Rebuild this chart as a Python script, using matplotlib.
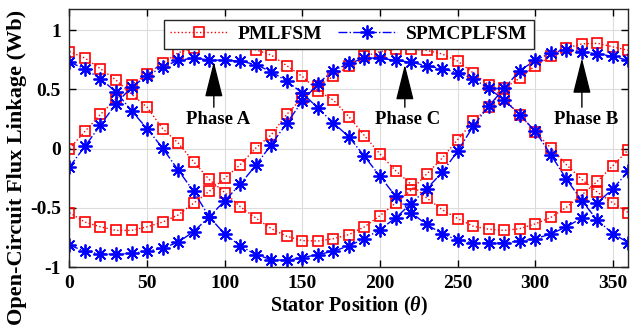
import matplotlib
matplotlib.use("Agg")
import matplotlib.pyplot as plt

plt.rcParams['font.family'] = ['Liberation Serif', 'DejaVu Serif']
plt.rcParams['font.weight'] = 'bold'
plt.rcParams['mathtext.fontset'] = 'custom'
plt.rcParams['mathtext.rm'] = 'Liberation Serif:bold'
plt.rcParams['mathtext.it'] = 'Liberation Serif:italic:bold'
plt.rcParams['mathtext.bf'] = 'Liberation Serif:bold'

# Stator position (degrees)
theta = [0, 10, 20, 30, 40, 50, 60, 70, 80, 90, 100, 110, 120, 130, 140, 150,
         160, 170, 180, 190, 200, 210, 220, 230, 240, 250, 260, 270, 280, 290,
         300, 310, 320, 330, 340, 350, 360]

# PMLFSM open-circuit flux linkage (Wb)
pml_a = [0.0, 0.146, 0.29, 0.42, 0.54, 0.63, 0.72, 0.81, 0.85, 0.88, 0.89, 0.88,
         0.835, 0.79, 0.70, 0.61, 0.49, 0.41, 0.27, 0.11, -0.045, -0.185, -0.30,
         -0.415, -0.515, -0.59, -0.655, -0.68, -0.69, -0.675, -0.635, -0.58,
         -0.495, -0.39, -0.275, -0.143, -0.008]
pml_b = [0.82, 0.765, 0.675, 0.58, 0.46, 0.35, 0.17, 0.048, -0.11, -0.26, -0.37,
         -0.49, -0.585, -0.675, -0.74, -0.776, -0.78, -0.76, -0.725, -0.66,
         -0.565, -0.46, -0.35, -0.215, -0.08, 0.076, 0.23, 0.35, 0.51, 0.596,
         0.70, 0.78, 0.85, 0.885, 0.89, 0.86, 0.83]
pml_c = [-0.54, -0.62, -0.66, -0.69, -0.69, -0.66, -0.62, -0.56, -0.46, -0.36,
         -0.25, -0.135, 0.005, 0.118, 0.29, 0.43, 0.53, 0.61, 0.70, 0.78, 0.82,
         0.84, 0.84, 0.83, 0.80, 0.74, 0.64, 0.54, 0.42, 0.287, 0.14, 0.006,
         -0.135, -0.26, -0.368, -0.458, -0.54]

# SPMCPLFSM open-circuit flux linkage (Wb)
spm_a = [-0.155, 0.02, 0.2, 0.38, 0.52, 0.615, 0.69, 0.745, 0.765, 0.75, 0.745,
         0.74, 0.71, 0.65, 0.57, 0.47, 0.343, 0.217, 0.10, -0.065, -0.233, -0.40,
         -0.54, -0.64, -0.717, -0.773, -0.795, -0.795, -0.795, -0.78, -0.76,
         -0.72, -0.66, -0.585, -0.458, -0.337, -0.19]
spm_b = [0.73, 0.675, 0.59, 0.48, 0.32, 0.17, 0.005, -0.18, -0.36, -0.576, -0.72,
         -0.82, -0.894, -0.936, -0.944, -0.92, -0.894, -0.866, -0.82, -0.76,
         -0.683, -0.585, -0.464, -0.34, -0.2, -0.022, 0.19, 0.36, 0.51, 0.66,
         0.745, 0.81, 0.835, 0.82, 0.80, 0.78, 0.745]
spm_c = [-0.815, -0.866, -0.89, -0.89, -0.885, -0.866, -0.84, -0.79, -0.70,
         -0.576, -0.44, -0.30, -0.14, 0.034, 0.217, 0.40, 0.55, 0.66, 0.72,
         0.765, 0.765, 0.745, 0.73, 0.70, 0.675, 0.643, 0.59, 0.51, 0.41, 0.287,
         0.146, -0.05, -0.256, -0.44, -0.605, -0.717, -0.795]

series_labels = ['PMLFSM', 'SPMCPLFSM']
phase_labels = ['Phase A', 'Phase C', 'Phase B']
phase_text_x = [95.5, 218, 333]
phase_arrow_x = [93, 216, 330]
phase_arrow_tip = [0.735, 0.71, 0.765]

x_ticks = [0, 50, 100, 150, 200, 250, 300, 350]
y_ticks = [-1, -0.5, 0, 0.5, 1]

fig = plt.figure(figsize=(6.31, 3.31), dpi=100)
ax = fig.add_axes([0.110, 0.193, 0.886, 0.780])

red_kw = dict(color='#ff0000', linestyle=':', linewidth=1.0, marker='s',
              markersize=7.5, markerfacecolor='none', markeredgecolor='#ff0000',
              markeredgewidth=1.2)
# asterisk marker: eight spokes radiating from the centre
blue_kw = dict(color='#0000ff', linestyle='-.', linewidth=1.0, marker=(8, 2, 0),
               markersize=10, markerfacecolor='#0000ff', markeredgecolor='#0000ff',
               markeredgewidth=1.3)

for i, ys in enumerate([pml_a, pml_b, pml_c]):
    ax.plot(theta, ys, label=series_labels[0] if i == 0 else None, **red_kw)
for i, ys in enumerate([spm_a, spm_b, spm_c]):
    ax.plot(theta, ys, label=series_labels[1] if i == 0 else None, **blue_kw)

ax.set_xlim(0, 360)
ax.set_ylim(-1, 1.18)
ax.set_xticks(x_ticks)
ax.set_yticks(y_ticks)
ax.set_yticklabels(['-1', '-0.5', '0', '0.5', '1'])
ax.grid(True, color='#dcdcdc', linewidth=0.8)
ax.set_axisbelow(True)
ax.tick_params(direction='in', top=True, right=True, length=5, width=1,
               labelsize=14, pad=6)
for s in ax.spines.values():
    s.set_linewidth(1.0)
    s.set_color('#262626')

ax.set_xlabel(r'Stator Position ($\theta$)', fontsize=14.5, fontweight='bold',
              labelpad=2)
ax.set_ylabel('Open-Circuit Flux Linkage (Wb)', fontsize=16,
              fontweight='bold')
ax.yaxis.set_label_coords(-0.075, 0.385)

for lab, tx, axx, tip in zip(phase_labels, phase_text_x, phase_arrow_x,
                             phase_arrow_tip):
    ax.annotate('', xy=(axx, tip), xytext=(axx, 0.35),
                arrowprops=dict(arrowstyle='-|>,head_length=1.6,head_width=0.4',
                                color='black', lw=1.0, mutation_scale=14,
                                shrinkA=0, shrinkB=0))
    ax.text(tx, 0.245, lab, ha='center', va='center', fontsize=13.5,
            fontweight='bold')

leg = ax.legend(loc='upper center', bbox_to_anchor=(0.5, 0.958), ncol=2,
                fontsize=14, frameon=True, fancybox=False, framealpha=1,
                edgecolor='#262626', handlelength=3.0, columnspacing=0.8,
                handletextpad=0.5, borderpad=0.3, borderaxespad=0)
leg.get_frame().set_linewidth(1.0)
for t in leg.get_texts():
    t.set_fontweight('bold')

fig.savefig('out.png', dpi=100)
